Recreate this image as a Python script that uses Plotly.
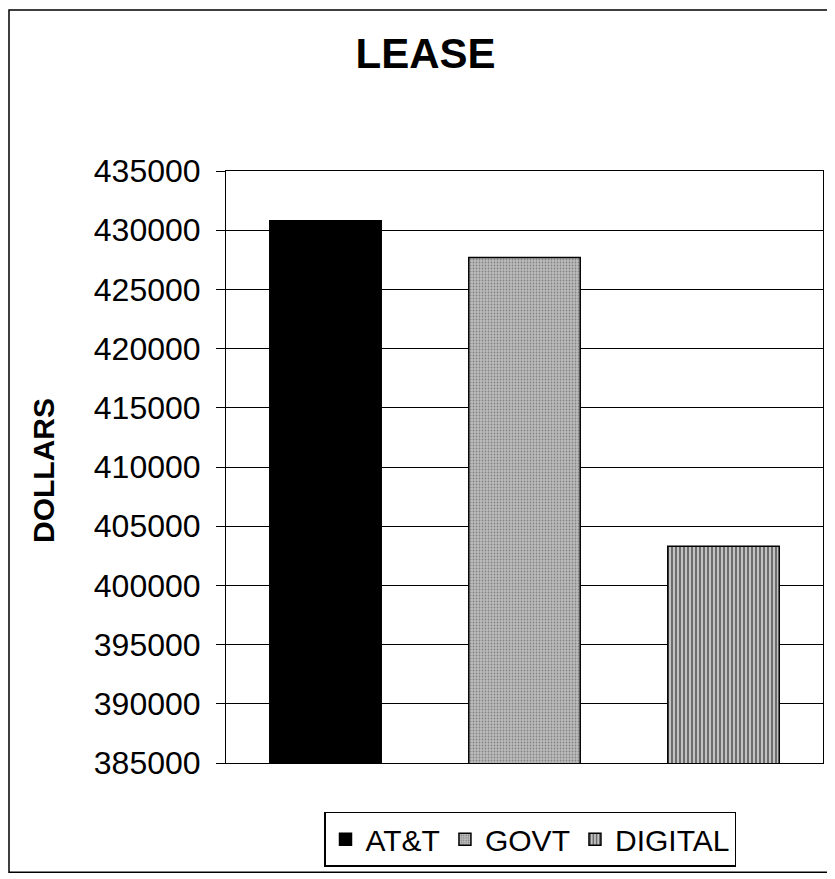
import plotly.graph_objects as go

categories = ["AT&T", "GOVT", "DIGITAL"]
values = [430800, 427700, 403300]
y_ticks = [385000, 390000, 395000, 400000, 405000, 410000, 415000, 420000, 425000, 430000, 435000]

# page body adds an 8px offset; work in reference pixels minus 8
OFF = 8
W, H = 827, 871
L = 226 - OFF
T = 171 - OFF
R = W - (823 - OFF)
B = H - (767 - OFF)
pw, ph = W - L - R, H - T - B

FONT = "Liberation Sans, Arial, sans-serif"

styles = [
    dict(color="#000000", pattern=None),
    dict(color="#b4b4b4", pattern=dict(shape=".", fgcolor="#484848", bgcolor="#bcbcbc", size=3, solidity=0.28)),
    dict(color="#ffffff", pattern=dict(shape="|", fgcolor="#000000", bgcolor="#d8d8d8", size=4, solidity=0.6)),
]

fig = go.Figure()
for cat, val, st in zip(categories, values, styles):
    marker = dict(color=st["color"], line=dict(color="#000000", width=1.5))
    if st["pattern"]:
        marker["pattern"] = st["pattern"]
    fig.add_trace(go.Bar(x=[cat], y=[val], name=cat, marker=marker))


def px_to_paper_x(px):
    return (px - OFF - L) / pw


def py_to_paper_y(py):
    return (H - B - (py - OFF)) / ph


# outer frame
fig.add_shape(type="rect", xref="paper", yref="paper",
              x0=px_to_paper_x(9), x1=px_to_paper_x(833),
              y0=py_to_paper_y(877), y1=py_to_paper_y(9),
              line=dict(color="#000000", width=1.5), fillcolor="rgba(0,0,0,0)", layer="below")

fig.add_annotation(text="<b>DOLLARS</b>", textangle=-90, xref="paper", yref="paper",
                   x=px_to_paper_x(44), y=py_to_paper_y(473), xanchor="center", yanchor="middle",
                   showarrow=False, font=dict(family=FONT, size=30, color="#000000"))

fig.update_layout(
    width=W, height=H,
    margin=dict(l=L, r=R, t=T, b=B, pad=0),
    paper_bgcolor="#ffffff", plot_bgcolor="#ffffff",
    barmode="overlay", bargap=0.44,
    font=dict(family=FONT, color="#000000"),
    title=dict(text="<b>LEASE</b>", x=(425.5 - OFF) / W, xref="container", xanchor="center",
               y=1 - (53.5 - OFF) / H, yref="container", yanchor="middle",
               font=dict(family=FONT, size=42, color="#000000")),
    showlegend=True,
    legend=dict(orientation="h", x=px_to_paper_x(530), xanchor="center",
                y=py_to_paper_y(816), yanchor="top",
                bordercolor="#000000", borderwidth=1.5, bgcolor="#ffffff",
                font=dict(family=FONT, size=30, color="#000000"),
                itemwidth=30, tracegroupgap=0),
    xaxis=dict(showticklabels=False, ticks="", showgrid=False, showline=True, linecolor="#000000",
               linewidth=1, mirror=True, zeroline=False),
    yaxis=dict(range=[385000, 435000], tickvals=y_ticks, ticktext=[str(v) for v in y_ticks],
               ticks="outside", ticklen=9, tickcolor="#000000", tickwidth=1,
               ticklabelstandoff=9,
               tickfont=dict(family=FONT, size=32, color="#000000"),
               showgrid=True, gridcolor="#000000", gridwidth=1,
               showline=True, linecolor="#000000", linewidth=1, mirror=True, zeroline=False),
)

fig.write_html("out.html")
